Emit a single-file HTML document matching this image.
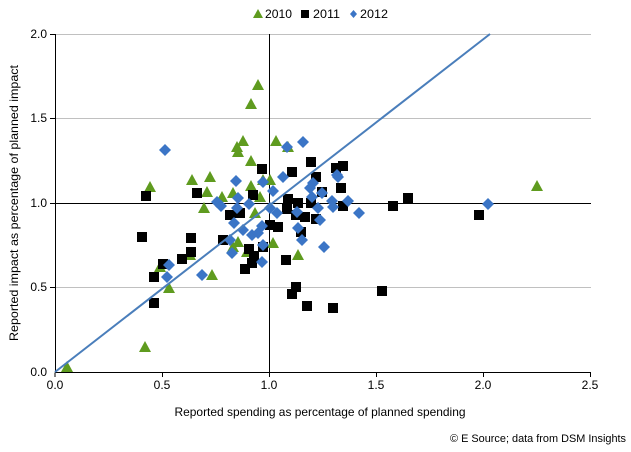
<!DOCTYPE html>
<html><head><meta charset="utf-8"><style>
html,body{margin:0;padding:0;background:#fff;}
svg{display:block;font-family:"Liberation Sans",Arial,sans-serif;}
</style></head><body>
<svg width="631" height="452" viewBox="0 0 631 452" xmlns="http://www.w3.org/2000/svg">
<defs>
<polygon id="t" points="0,-6 6,5 -6,5" fill="#5f9b1f"/>
<rect id="s" x="-5" y="-5" width="10" height="10" fill="#000"/>
<polygon id="d" points="0,-6 6,0 0,6 -6,0" fill="#3b75c6"/>
</defs>
<g stroke="#c0c0c0" stroke-width="1">
<line x1="55" y1="34.5" x2="591" y2="34.5"/>
<line x1="55" y1="118.5" x2="591" y2="118.5"/>
<line x1="55" y1="287.5" x2="591" y2="287.5"/>
</g>
<g stroke="#000" stroke-width="1">
<line x1="55.5" y1="34" x2="55.5" y2="372"/>
<line x1="55" y1="372.5" x2="591" y2="372.5"/>
<line x1="269.5" y1="34" x2="269.5" y2="372"/>
<line x1="55" y1="203.5" x2="591" y2="203.5"/>
<line x1="162.5" y1="372" x2="162.5" y2="377"/>
<line x1="269.5" y1="372" x2="269.5" y2="377"/>
<line x1="376.5" y1="372" x2="376.5" y2="377"/>
<line x1="483.5" y1="372" x2="483.5" y2="377"/>
<line x1="590.5" y1="372" x2="590.5" y2="377"/>
<line x1="50" y1="34.5" x2="55" y2="34.5"/>
<line x1="50" y1="118.5" x2="55" y2="118.5"/>
<line x1="50" y1="203.5" x2="55" y2="203.5"/>
<line x1="50" y1="287.5" x2="55" y2="287.5"/>
<line x1="55" y1="372.5" x2="55" y2="377"/>
</g>
<g>
<use href="#t" x="258" y="85"/><use href="#t" x="251" y="104"/><use href="#t" x="237" y="147"/><use href="#t" x="243" y="141"/><use href="#t" x="238" y="152"/><use href="#t" x="251" y="161"/><use href="#t" x="276" y="141"/><use href="#t" x="288" y="147"/><use href="#t" x="192" y="180"/><use href="#t" x="210" y="177"/><use href="#t" x="150" y="187"/><use href="#t" x="207" y="192"/><use href="#t" x="222" y="197"/><use href="#t" x="233" y="193"/><use href="#t" x="251" y="186"/><use href="#t" x="263" y="180"/><use href="#t" x="270" y="180"/><use href="#t" x="260" y="197"/><use href="#t" x="204" y="208"/><use href="#t" x="255" y="213"/><use href="#t" x="238" y="242"/><use href="#t" x="273" y="243"/><use href="#t" x="298" y="255"/><use href="#t" x="190" y="255"/><use href="#t" x="160" y="267"/><use href="#t" x="212" y="275"/><use href="#t" x="169" y="288"/><use href="#t" x="233" y="247"/><use href="#t" x="247" y="252"/><use href="#t" x="67" y="367"/><use href="#t" x="145" y="347"/><use href="#t" x="537" y="186"/>
</g>
<g>
<use href="#s" x="262" y="169"/><use href="#s" x="292" y="172"/><use href="#s" x="311" y="162"/><use href="#s" x="336" y="168"/><use href="#s" x="343" y="166"/><use href="#s" x="316" y="177"/><use href="#s" x="341" y="188"/><use href="#s" x="322" y="192"/><use href="#s" x="146" y="196"/><use href="#s" x="197" y="193"/><use href="#s" x="253" y="195"/><use href="#s" x="288" y="199"/><use href="#s" x="298" y="203"/><use href="#s" x="311" y="203"/><use href="#s" x="343" y="206"/><use href="#s" x="230" y="215"/><use href="#s" x="240" y="213"/><use href="#s" x="287" y="209"/><use href="#s" x="296" y="215"/><use href="#s" x="305" y="217"/><use href="#s" x="316" y="219"/><use href="#s" x="270" y="225"/><use href="#s" x="278" y="227"/><use href="#s" x="301" y="232"/><use href="#s" x="142" y="237"/><use href="#s" x="191" y="238"/><use href="#s" x="223" y="240"/><use href="#s" x="249" y="249"/><use href="#s" x="263" y="247"/><use href="#s" x="191" y="252"/><use href="#s" x="182" y="259"/><use href="#s" x="254" y="256"/><use href="#s" x="286" y="260"/><use href="#s" x="252" y="263"/><use href="#s" x="245" y="269"/><use href="#s" x="163" y="264"/><use href="#s" x="154" y="277"/><use href="#s" x="296" y="287"/><use href="#s" x="292" y="294"/><use href="#s" x="154" y="303"/><use href="#s" x="307" y="306"/><use href="#s" x="333" y="308"/><use href="#s" x="479" y="215"/><use href="#s" x="408" y="198"/><use href="#s" x="393" y="206"/><use href="#s" x="382" y="291"/>
</g>
<g>
<use href="#d" x="165" y="150"/><use href="#d" x="287" y="147"/><use href="#d" x="303" y="142"/><use href="#d" x="337" y="175"/><use href="#d" x="338" y="177"/><use href="#d" x="313" y="183"/><use href="#d" x="310" y="188"/><use href="#d" x="322" y="193"/><use href="#d" x="312" y="197"/><use href="#d" x="332" y="201"/><use href="#d" x="348" y="201"/><use href="#d" x="333" y="207"/><use href="#d" x="359" y="213"/><use href="#d" x="318" y="208"/><use href="#d" x="320" y="220"/><use href="#d" x="297" y="212"/><use href="#d" x="298" y="228"/><use href="#d" x="302" y="240"/><use href="#d" x="324" y="247"/><use href="#d" x="236" y="181"/><use href="#d" x="263" y="182"/><use href="#d" x="273" y="191"/><use href="#d" x="283" y="177"/><use href="#d" x="217" y="202"/><use href="#d" x="221" y="206"/><use href="#d" x="238" y="198"/><use href="#d" x="237" y="208"/><use href="#d" x="249" y="204"/><use href="#d" x="270" y="208"/><use href="#d" x="277" y="213"/><use href="#d" x="234" y="223"/><use href="#d" x="243" y="230"/><use href="#d" x="252" y="235"/><use href="#d" x="258" y="233"/><use href="#d" x="262" y="226"/><use href="#d" x="263" y="245"/><use href="#d" x="230" y="240"/><use href="#d" x="232" y="253"/><use href="#d" x="262" y="262"/><use href="#d" x="169" y="265"/><use href="#d" x="167" y="277"/><use href="#d" x="202" y="275"/><use href="#d" x="488" y="204"/>
</g>
<line x1="55" y1="372" x2="490" y2="34" stroke="#4a7ebb" stroke-width="2"/>
<g font-size="12" fill="#000">
<g text-anchor="end">
<text x="47" y="38">2.0</text><text x="47" y="122">1.5</text><text x="47" y="207">1.0</text><text x="47" y="291">0.5</text><text x="47" y="376">0.0</text>
</g>
<g text-anchor="middle">
<text x="55" y="389">0.0</text><text x="162" y="389">0.5</text><text x="269" y="389">1.0</text><text x="376" y="389">1.5</text><text x="483" y="389">2.0</text><text x="590" y="389">2.5</text>
<text x="320" y="416" textLength="291" lengthAdjust="spacingAndGlyphs">Reported spending as percentage of planned spending</text>
<text transform="translate(18,203) rotate(-90)" textLength="276" lengthAdjust="spacingAndGlyphs">Reported impact as percentage of planned impact</text>
</g>
<text x="626" y="442" text-anchor="end" font-size="11" textLength="176" lengthAdjust="spacingAndGlyphs">© E Source; data from DSM Insights</text>
<polygon points="258,9 263,18 253,18" fill="#5f9b1f"/>
<text x="265" y="18" textLength="27" lengthAdjust="spacingAndGlyphs">2010</text>
<rect x="301" y="10" width="8" height="8" fill="#000"/>
<text x="313" y="18" textLength="27" lengthAdjust="spacingAndGlyphs">2011</text>
<polygon points="353.5,10 357,14 353.5,18 350,14" fill="#3b75c6"/>
<text x="360" y="18" textLength="28" lengthAdjust="spacingAndGlyphs">2012</text>
</g>
</svg>
</body></html>
